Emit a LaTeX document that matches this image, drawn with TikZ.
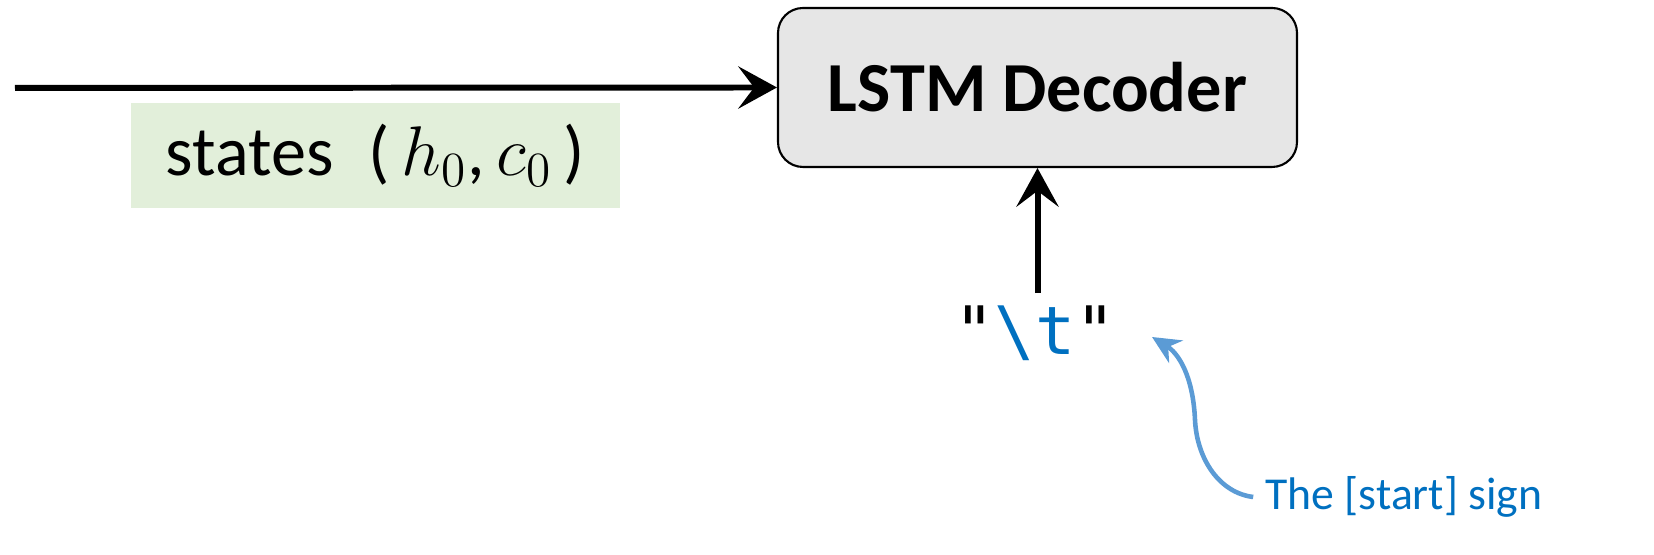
\documentclass[tikz,border=0pt]{standalone}
\usepackage{fix-cm}
\usepackage{fontspec}
\setmainfont{Carlito}
\setmonofont{DejaVu Sans Mono}
\usepackage{xcolor}
\usetikzlibrary{arrows.meta}
\definecolor{startblue}{HTML}{0070C0}
\definecolor{curveblue}{HTML}{5B9BD5}
\definecolor{stategreen}{HTML}{E2EFDA}
\definecolor{decgray}{HTML}{E6E6E6}
\tikzset{
	flow/.style={line width=1.7pt, -{Stealth[length=11pt, width=12pt, inset=4.5pt]}},
	hint/.style={curveblue, line width=1.3pt, -{Stealth[length=8pt, width=7.5pt]}}
}

\begin{document}
\begin{tikzpicture}
				\useasboundingbox (0, 0) rectangle (16.54, 5.55);
				% Nodes:
				\node[draw, line width=0.6pt, fill=decgray, rounded corners=0.25cm, minimum width=5.19cm, minimum height=1.59cm, font=\fontsize{20}{24}\selectfont\bfseries](dec) at (10.375, 4.675){LSTM Decoder};
				\node[fill=stategreen, minimum width=4.89cm, minimum height=1.05cm, font=\fontsize{20}{24}\selectfont](states) at (3.755, 3.995){states \;(\,$h_0$,\,$c_0$\,)};
				\node[font=\fontsize{19}{22}\selectfont\ttfamily](tok) at (10.35, 2.22){"\textcolor{startblue}{\textbackslash t}"};
				\node[text=startblue, font=\fontsize{13}{16}\selectfont](note) at (14.04, 0.58){The [start] sign};
				\coordinate (in) at (0.15, 4.67);
				\coordinate (tip) at (11.52, 2.18);
				% Connectors:
				\draw[flow] (in) -- (dec.west);
				\draw[flow] (dec.south |- tok.north) -- (dec.south);
				\draw[hint] (note.west) .. controls (12.2, 0.62) and (11.97, 0.95) .. (11.95, 1.35) .. controls (11.93, 1.8) and (11.78, 2.02) .. (tip);
			\end{tikzpicture}
\end{document}
